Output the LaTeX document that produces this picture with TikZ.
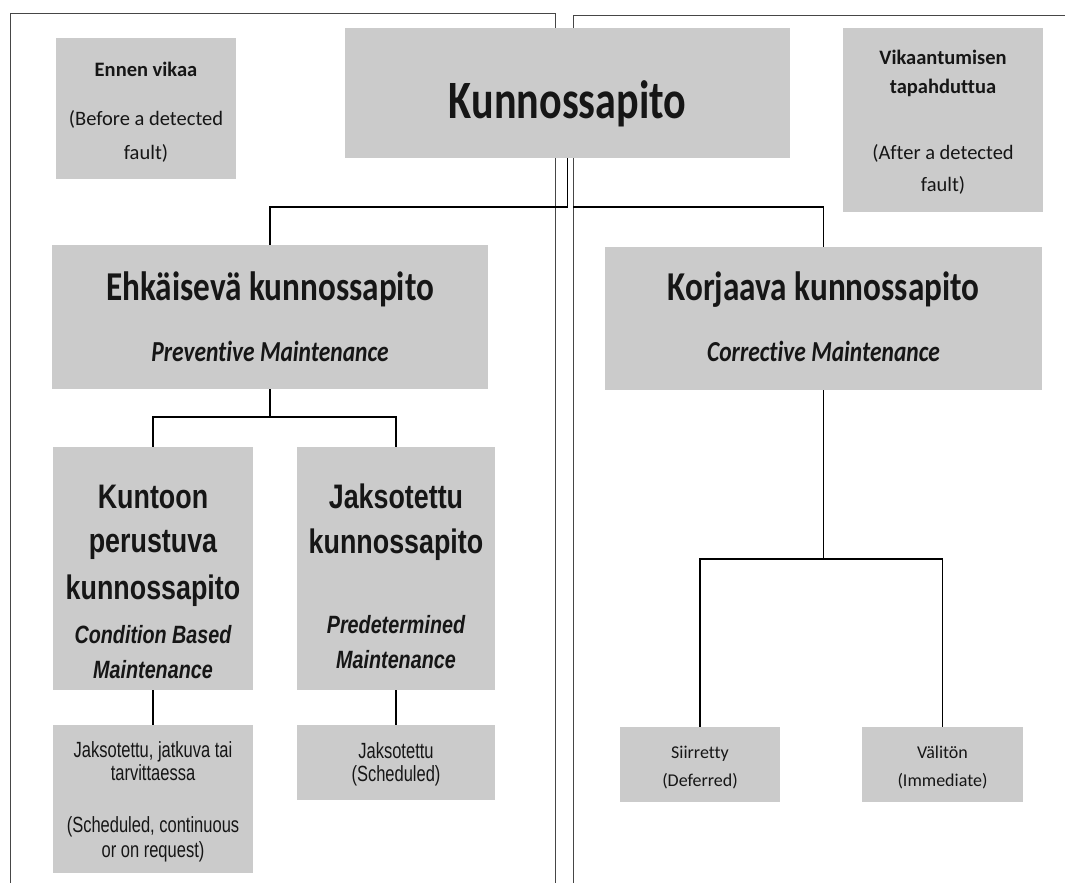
\documentclass[tikz,border=0pt]{standalone}
\usepackage{fontspec}
\setmainfont{Carlito}
\newfontfamily\calt[FakeStretch=0.78,Ligatures=NoCommon]{Carlito}
\newfontfamily\calf[FakeStretch=0.81,Ligatures=NoCommon]{Carlito}
\newfontfamily\calr[Ligatures=NoCommon]{Carlito}
\newfontfamily\arf[FakeStretch=0.79]{Liberation Sans}
\newfontfamily\arn[FakeStretch=0.75]{Liberation Sans}
\definecolor{boxgray}{RGB}{203,203,203}
\definecolor{ink}{RGB}{22,22,22}
\definecolor{framec}{RGB}{70,70,70}
\begin{document}
\begin{tikzpicture}[x=1pt,y=-1pt,
  box/.style={fill=boxgray, draw=none, inner sep=0pt, outer sep=0pt},
  lbl/.style={anchor=base, inner sep=0pt, text=ink},
  conn/.style={draw=black, line width=1.2pt},
  frameline/.style={draw=framec, line width=0.9pt},
  smallb/.style={lbl, font=\calr\bfseries\fontsize{20.5}{22}\selectfont},
  smallr/.style={lbl, font=\calr\fontsize{20.5}{22}\selectfont},
  titlef/.style={lbl, font=\calt\bfseries\fontsize{54}{56}\selectfont},
  headb/.style={lbl, font=\calf\bfseries\fontsize{41}{44}\selectfont},
  headi/.style={lbl, font=\calf\bfseries\itshape\fontsize{29}{32}\selectfont},
  arb/.style={lbl, font=\arf\bfseries\fontsize{34}{36}\selectfont},
  arbi/.style={lbl, font=\arf\bfseries\itshape\fontsize{25}{28}\selectfont},
  arr/.style={lbl, font=\arn\fontsize{22}{24}\selectfont},
  tinyr/.style={lbl, font=\calr\fontsize{18}{20}\selectfont}]
\useasboundingbox (0,0) rectangle (1065,883);
\fill[white] (0,0) rectangle (1065,883);
% panel frames
\draw[frameline] (10,883) -- (10,13) -- (555,13) -- (555,883);
\draw[frameline] (573,883) -- (573,15) -- (1065,15);
% boxes
\node[box, minimum width=180, minimum height=141] (ennen) at (146,108.5) {};
\node[box, minimum width=445, minimum height=130] (kun) at (567.5,93) {};
\node[box, minimum width=200, minimum height=184] (vik) at (943,120) {};
\node[box, minimum width=436, minimum height=144] (ehk) at (270,317) {};
\node[box, minimum width=437, minimum height=143] (kor) at (823.5,318.5) {};
\node[box, minimum width=200, minimum height=243] (kunt) at (153,568.5) {};
\node[box, minimum width=198, minimum height=243] (jak) at (396,568.5) {};
\node[box, minimum width=200, minimum height=148] (jj) at (153,799) {};
\node[box, minimum width=198, minimum height=75] (js) at (396,762.5) {};
\node[box, minimum width=160, minimum height=75] (sii) at (700,764.5) {};
\node[box, minimum width=161, minimum height=75] (val) at (942.5,764.5) {};
% texts
\node[smallb] (t1) at (146,76) {Ennen vikaa};
\node[smallr] (t2) at (146,125) {(Before a detected};
\node[smallr] (t3) at (146,159) {fault)};
\node[titlef] (t4) at (567.5,118) {Kunnossapito};
\node[smallb] (t5) at (943,65) {Vikaantumisen};
\node[smallb] (t6) at (943,93) {tapahduttua};
\node[smallr] (t7) at (943,159) {(After a detected};
\node[smallr] (t8) at (943,191) {fault)};
\node[headb] (t9) at (270,300) {Ehkäisevä kunnossapito};
\node[headi] (t10) at (270,361) {Preventive Maintenance};
\node[headb] (t11) at (823.5,300) {Korjaava kunnossapito};
\node[headi] (t12) at (823.5,361) {Corrective Maintenance};
\node[arb] (t13) at (153,508) {Kuntoon};
\node[arb] (t14) at (153,552) {perustuva};
\node[arb] (t15) at (153,599) {kunnossapito};
\node[arbi] (t16) at (153,643) {Condition Based};
\node[arbi] (t17) at (153,678) {Maintenance};
\node[arb] (t18) at (396,508) {Jaksotettu};
\node[arb] (t19) at (396,553) {kunnossapito};
\node[arbi] (t20) at (396,633) {Predetermined};
\node[arbi] (t21) at (396,668) {Maintenance};
\node[arr] (t22) at (153,757) {Jaksotettu, jatkuva tai};
\node[arr] (t23) at (153,780) {tarvittaessa};
\node[arr] (t24) at (153,832) {(Scheduled, continuous};
\node[arr] (t25) at (153,857) {or on request)};
\node[arr] (t26) at (396,758) {Jaksotettu};
\node[arr] (t27) at (396,781) {(Scheduled)};
\node[tinyr] (t28) at (700,758) {Siirretty};
\node[tinyr] (t29) at (700,786) {(Deferred)};
\node[tinyr] (t30) at (942.5,758) {Välitön};
\node[tinyr] (t31) at (942.5,786) {(Immediate)};
% connectors
\coordinate (rj) at (573,207);
\draw[conn] (kun.south) -- ++(0,49) -| (ehk.north);
\draw[conn] (rj) -| (kor.north);
\draw[conn] (ehk.south) -- ++(0,28) -| (kunt.north);
\draw[conn] (ehk.south) -- ++(0,28) -| (jak.north);
\draw[conn] (kor.south) -- ++(0,169) -| (sii.north);
\draw[conn] (kor.south) -- ++(0,169) -| (val.north);
\draw[conn] (kunt.south) -- (jj.north);
\draw[conn] (jak.south) -- (js.north);
\end{tikzpicture}
\end{document}
